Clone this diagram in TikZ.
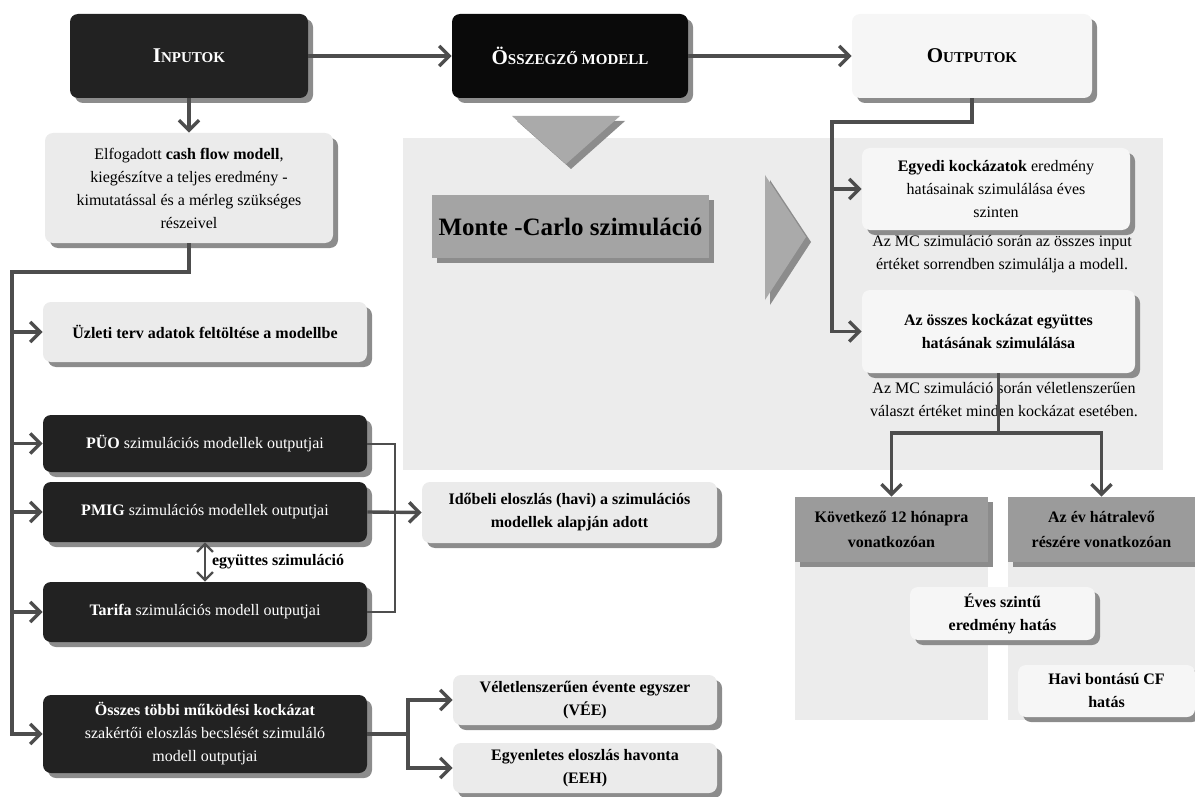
\documentclass[tikz,border=0pt]{standalone}
\usepackage{fontspec}
\setmainfont{Liberation Serif}
\usepackage{tikz}
\usetikzlibrary{shapes,arrows.meta,positioning,shadows}
\usepackage{xcolor}

\definecolor{boxdark}{HTML}{222222}
\definecolor{boxblack}{HTML}{0A0A0A}
\definecolor{boxlight}{HTML}{EBEBEB}
\definecolor{boxpale}{HTML}{F6F6F6}
\definecolor{panel}{HTML}{ECECEC}
\definecolor{mcgray}{HTML}{A4A4A4}
\definecolor{headgray}{HTML}{9B9B9B}
\definecolor{trigray}{HTML}{AAAAAA}
\definecolor{linegray}{HTML}{4D4D4D}
\definecolor{shadowgray}{HTML}{8C8C8C}

\newcommand{\hdcaps}[2]{{\fontsize{10.5}{12}\selectfont\bfseries #1}{\fontsize{7.5}{12}\selectfont\bfseries #2}}

\begin{document}
\begin{tikzpicture}[
        x=0.5pt, y=-0.5pt,
        font=\fontsize{8}{11.5}\selectfont,
        shade/.style={drop shadow={shadow xshift=2.5pt, shadow yshift=-2.5pt, opacity=1, fill=shadowgray}},
        base/.style={rectangle, rounded corners=4pt, align=center, inner sep=1pt, shade},
        block/.style={base, fill=boxlight},
        paleblock/.style={base, fill=boxpale},
        darkblock/.style={base, fill=boxdark, text=white},
        headblock/.style={base, rounded corners=0pt, fill=headgray, font=\fontsize{8}{12.5}\selectfont\bfseries},
        boldtext/.style={font=\fontsize{8}{11.5}\selectfont\bfseries},
        line/.style={draw, line width=1.7pt, linegray, -{Straight Barb[length=5pt,width=10pt]}},
        twoway/.style={draw, line width=1.1pt, linegray, {Straight Barb[length=4pt,width=8pt]}-{Straight Barb[length=4pt,width=8pt]}},
        link/.style={draw, line width=1.7pt, linegray},
        thinlink/.style={draw, line width=1pt, linegray}
    ]
    \useasboundingbox (0,0) rectangle (1195,797);
    % background panels
    \fill [panel] (403,138) rectangle (1163,470);
    \fill [panel] (795,497) rectangle (988,720);
    \fill [panel] (1008,497) rectangle (1195,720);
    \path [fill=trigray, shade] (512,116) -- (620,116) -- (566,164) -- cycle;
    \path [fill=trigray, shade] (765,175) -- (806,237) -- (765,300) -- cycle;
    % top row
    \node [darkblock, minimum width=119pt, minimum height=42pt] (inputok) at (189,56) {\hdcaps{I}{NPUTOK}};
    \node [base, fill=boxblack, text=white, minimum width=118pt, minimum height=42pt] (osszegzo) at (570,56) {\hdcaps{Ö}{SSZEGZŐ MODELL}};
    \node [paleblock, minimum width=120pt, minimum height=42pt] (outputok) at (972,56) {\hdcaps{O}{UTPUTOK}};
    % inputs
    \node [block, minimum width=144pt, minimum height=55pt] (elfogadott) at (189,188) {Elfogadott \textbf{cash flow modell},\\ kiegészítve a teljes eredmény -\\ kimutatással és a mérleg szükséges\\ részeivel};
    \node [block, boldtext, minimum width=162pt, minimum height=30pt] (uzleti) at (205,332) {Üzleti terv adatok feltöltése a modellbe};
    \node [darkblock, minimum width=162pt, minimum height=28.5pt] (puo) at (205,443.5) {\textbf{PÜO} szimulációs modellek outputjai};
    \node [darkblock, minimum width=162pt, minimum height=30pt] (pmig) at (205,512) {\textbf{PMIG} szimulációs modellek outputjai};
    \node [darkblock, minimum width=162pt, minimum height=30pt] (tarifa) at (205,612) {\textbf{Tarifa} szimulációs modell outputjai};
    \node [darkblock, minimum width=162pt, minimum height=39pt] (osszes) at (205,734) {\textbf{Összes többi működési kockázat}\\ szakértői eloszlás becslését szimuláló\\ modell outputjai};
    \node [block, boldtext, minimum width=147.5pt, minimum height=30.5pt] (idobeli) at (569.5,512.5) {Időbeli eloszlás (havi) a szimulációs\\ modellek alapján adott};
    \node [block, boldtext, minimum width=132pt, minimum height=25pt] (vee) at (585,700) {Véletlenszerűen évente egyszer\\ (VÉE)};
    \node [block, boldtext, minimum width=132pt, minimum height=25pt] (eeh) at (585,768) {Egyenletes eloszlás havonta\\ (EEH)};
    % simulation
    \node [rectangle, fill=mcgray, shade, minimum width=137.5pt, minimum height=31.5pt, font=\fontsize{12.5}{14}\selectfont\bfseries] (montecarlo) at (570.5,226.5) {Monte -Carlo szimuláció};
    % outputs
    \node [paleblock, minimum width=134pt, minimum height=41pt] (egyedi) at (996,189) {\textbf{Egyedi kockázatok} eredmény\\ hatásainak szimulálása éves\\ szinten};
    \node [align=center, inner sep=0pt] (note1) at (1002,254) {Az MC szimuláció során az összes input\\ értéket sorrendben szimulálja a modell.};
    \node [paleblock, boldtext, minimum width=136.5pt, minimum height=41.5pt] (azosszes) at (998.5,331.5) {Az összes kockázat együttes\\ hatásának szimulálása};
    \node [align=center, inner sep=0pt] (note2) at (1004,400) {Az MC szimuláció során véletlenszerűen\\ választ értéket minden kockázat esetében.};
    \node [headblock, minimum width=96.5pt, minimum height=32.5pt] (kovetkezo) at (891.5,529.5) {Következő 12 hónapra\\ vonatkozóan};
    \node [headblock, minimum width=93.5pt, minimum height=32.5pt] (ev) at (1101.5,529.5) {Az év hátralevő\\ részére vonatkozóan};
    \node [paleblock, boldtext, minimum width=92.5pt, minimum height=26.5pt] (eves) at (1002.5,613.5) {Éves szintű\\ eredmény hatás};
    \node [paleblock, boldtext, minimum width=88.5pt, minimum height=26pt] (havi) at (1106.5,691) {Havi bontású CF\\ hatás};
    % connectors
    \coordinate (spine) at (12,272);
    \coordinate (bracket) at (395,443.5);
    \coordinate (osplit) at (408,734);
    \coordinate (obend) at (832,122);
    \coordinate (msplit) at (998.5,433);
    \path [line] (inputok) -- (osszegzo);
    \path [line] (osszegzo) -- (outputok);
    \path [line] (inputok) -- (elfogadott);
    \path [line] (elfogadott.south) |- (spine) |- (osszes.west);
    \path [line] (spine |- uzleti.west) -- (uzleti.west);
    \path [line] (spine |- puo.west) -- (puo.west);
    \path [line] (spine |- pmig.west) -- (pmig.west);
    \path [line] (spine |- tarifa.west) -- (tarifa.west);
    \path [thinlink] (puo.east) -- (bracket) |- (tarifa.east);
    \path [line] (pmig.east) -- (idobeli.west);
    \path [twoway] (pmig) -- node [right, boldtext, text=black, inner sep=3pt] {együttes szimuláció} (tarifa);
    \path [link] (osszes.east) -- (osplit);
    \path [line] (osplit) |- (vee.west);
    \path [line] (osplit) |- (eeh.west);
    \path [line] (outputok.south) |- (obend) |- (azosszes.west);
    \path [line] (obend |- egyedi.west) -- (egyedi.west);
    \path [link] (azosszes.south) -- (msplit);
    \path [line] (msplit) -| (kovetkezo.north);
    \path [line] (msplit) -| (ev.north);
\end{tikzpicture}
\end{document}
